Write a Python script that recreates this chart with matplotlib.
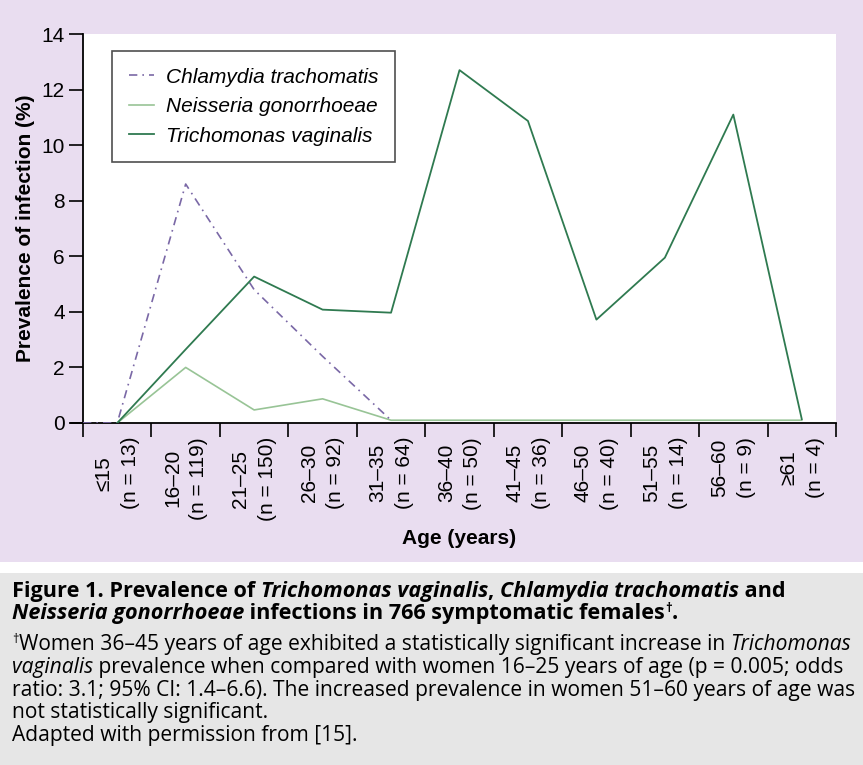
import matplotlib
matplotlib.use('Agg')
import matplotlib.pyplot as plt
from matplotlib.patches import Rectangle

# Data
ages = ['\u226415', '16\u201320', '21\u201325', '26\u201330', '31\u201335', '36\u201340',
        '41\u201345', '46\u201350', '51\u201355', '56\u201360', '\u226561']
n_counts = [13, 119, 150, 92, 64, 50, 36, 40, 14, 9, 4]
chlamydia = [0.0, 8.6, 4.8, 2.4, 0.1, 0.1, 0.1, 0.1, 0.1, 0.1, 0.1]
neisseria = [0.0, 2.0, 0.47, 0.87, 0.1, 0.1, 0.1, 0.1, 0.1, 0.1, 0.1]
trichomonas = [0.0, 2.65, 5.27, 4.08, 3.97, 12.7, 10.87, 3.72, 5.95, 11.1, 0.14]

plt.rcParams['font.family'] = ['Liberation Sans', 'DejaVu Sans']

W, H = 863, 765
fig = plt.figure(figsize=(W / 100, H / 100), dpi=100)
fig.patch.set_facecolor('white')

# panel backgrounds
fig.patches.append(Rectangle((0, 1 - 562 / H), 1, 562 / H, transform=fig.transFigure,
                             facecolor='#e9ddf0', edgecolor='none', zorder=-10))
fig.patches.append(Rectangle((0, 0), 1, 1 - 573 / H, transform=fig.transFigure,
                             facecolor='#e6e6e6', edgecolor='none', zorder=-10))

ax = fig.add_axes([83 / W, 1 - 423 / H, (836 - 83) / W, (423 - 34) / H])
ax.set_facecolor('white')

x = list(range(len(ages)))
ax.plot([-0.5] + x[:5], [0.0] + chlamydia[:5], color='#7a68a6', lw=1.2,
        linestyle=(0, (5, 3, 1, 3)), label='Chlamydia trachomatis', zorder=3)
ax.plot(x, neisseria, color='#98c496', lw=1.2, label='Neisseria gonorrhoeae', zorder=2)
ax.plot(x, trichomonas, color='#2f7a50', lw=1.3, label='Trichomonas vaginalis', zorder=4)

ax.set_xlim(-0.5, len(ages) - 0.5)
ax.set_ylim(0, 14)
ax.set_yticks(range(0, 15, 2))
ax.tick_params(axis='y', labelsize=15, length=10, width=1.2, direction='out', pad=3)

ax.set_xticks([i - 0.5 for i in range(len(ages) + 1)])
ax.set_xticklabels([])
ax.tick_params(axis='x', length=10, width=1.2, direction='out')
for i, (a, n) in enumerate(zip(ages, n_counts)):
    ax.text(i, -0.5, f'{a}\n(n = {n})', rotation=90, ha='center', va='top',
            fontsize=15, linespacing=1.5)

for s in ['top', 'right']:
    ax.spines[s].set_visible(False)
for s in ['left', 'bottom']:
    ax.spines[s].set_linewidth(1.3)
ax.spines['bottom'].set_bounds(-0.68, len(ages) - 0.5)

ax.set_ylabel('Prevalence of infection (%)', fontsize=15, fontweight='bold', labelpad=5)
fig.text((83 + 836) / 2 / W, 1 - 538 / H, 'Age (years)', ha='center', va='center',
         fontsize=15, fontweight='bold')

leg = ax.legend(loc='upper left', bbox_to_anchor=(29 / 753, 1 - 17 / 389),
                fontsize=15, frameon=True, fancybox=False, handlelength=1.2,
                borderpad=0.8, labelspacing=0.5, handletextpad=0.6, borderaxespad=0)
leg.get_frame().set_edgecolor('#222222')
leg.get_frame().set_linewidth(1.2)
for t in leg.get_texts():
    t.set_fontstyle('italic')

# caption, drawn as runs of plain / italic / bold text
cap = ['Open Sans', 'DejaVu Sans']
renderer = fig.canvas.get_renderer()


def draw_runs(y_px, runs, fs, weight='normal'):
    x_px = 12
    for txt, style in runs:
        size = fs
        yy = y_px
        if style == 'sup':
            size = fs * 0.6
            yy = y_px - fs * 0.45
            style = 'normal'
        t = fig.text(x_px / W, 1 - yy / H, txt, fontsize=size, fontstyle=style,
                     fontweight=weight, family=cap, va='baseline')
        x_px += t.get_window_extent(renderer).width


def run_width(runs, fs, weight='normal'):
    total = 0
    for txt, style in runs:
        size = fs * 0.6 if style == 'sup' else fs
        st = 'normal' if style == 'sup' else style
        t = fig.text(0, 0, txt, fontsize=size, fontstyle=st, fontweight=weight, family=cap)
        total += t.get_window_extent(renderer).width
        t.remove()
    return total


head = [
    [('Figure 1. Prevalence of ', 'normal'), ('Trichomonas vaginalis', 'italic'), (', ', 'normal'),
     ('Chlamydia trachomatis', 'italic'), (' and', 'normal')],
    [('Neisseria gonorrhoeae', 'italic'), (' infections in 766 symptomatic females', 'normal'),
     ('\u2020', 'sup'), ('.', 'normal')],
]
body = [
    [('\u2020', 'sup'), ('Women 36\u201345 years of age exhibited a statistically significant increase in ', 'normal'),
     ('Trichomonas', 'italic')],
    [('vaginalis', 'italic'), (' prevalence when compared with women 16\u201325 years of age (p = 0.005; odds', 'normal')],
    [('ratio: 3.1; 95% CI: 1.4\u20136.6). The increased prevalence in women 51\u201360 years of age was', 'normal')],
    [('not statistically significant.', 'normal')],
    [('Adapted with permission from [15].', 'normal')],
]

fs_head = 12 * 773 / run_width(head[0], 12, 'bold')
fs_body = 12 * 841 / run_width(body[2], 12)

for runs, yy in zip(head, [597, 619]):
    draw_runs(yy, runs, fs_head, 'bold')
for runs, yy in zip(body, [650, 673, 696, 718, 741]):
    draw_runs(yy, runs, fs_body)

fig.savefig('out.png', dpi=100)
